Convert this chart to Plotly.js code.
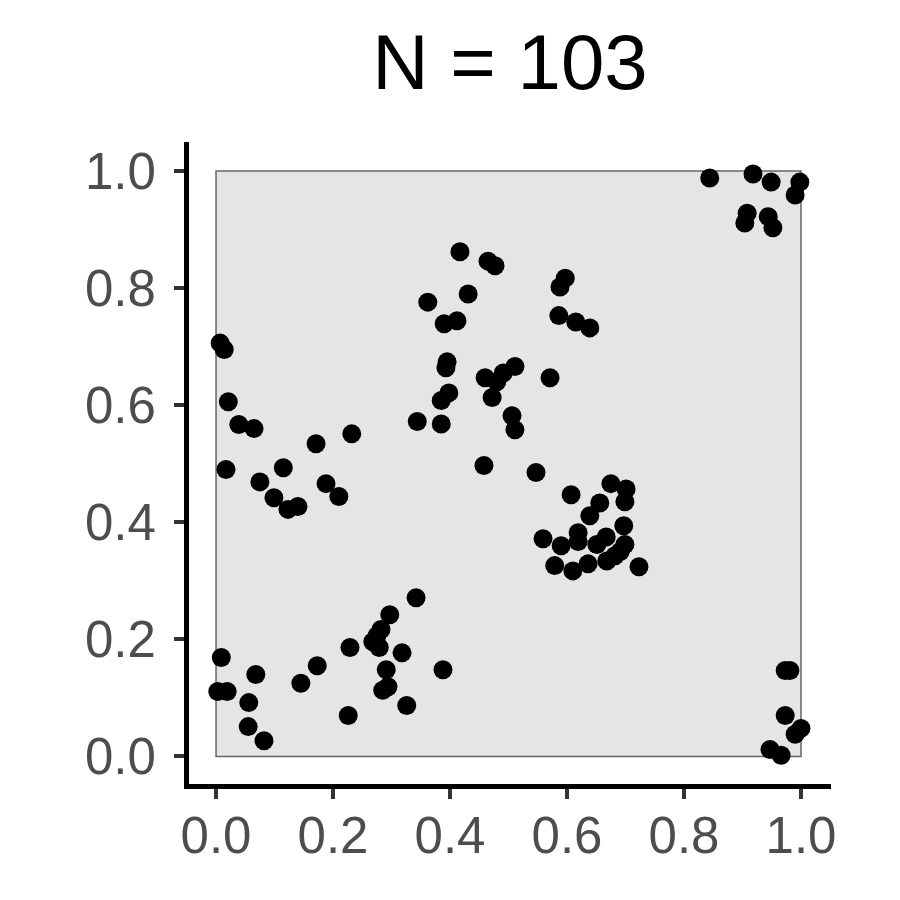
<!DOCTYPE html>
<html>
<head>
<meta charset="utf-8">
<script src="https://cdn.plot.ly/plotly-3.0.1.min.js"></script>
<style>html,body{margin:0;padding:0;background:#fff;}#chart{width:900px;height:900px;}</style>
</head>
<body>
<div id="chart"></div>
<script>
const titleText = "N = 103";
const xValues = [
  0.844, 0.918, 0.949, 0.998, 0.990, 0.908, 0.904, 0.944, 0.952,
  0.417, 0.465, 0.477, 0.362, 0.431, 0.390, 0.412, 0.395, 0.393, 0.398,
  0.385, 0.344, 0.385, 0.460, 0.491, 0.511, 0.472, 0.480, 0.506, 0.511,
  0.458, 0.547, 0.571, 0.597, 0.588, 0.586, 0.615, 0.639,
  0.607, 0.675, 0.701, 0.699, 0.656, 0.639, 0.697, 0.559, 0.590, 0.619,
  0.619, 0.667, 0.651, 0.699, 0.691, 0.579, 0.610, 0.636, 0.668, 0.723, 0.682,
  0.007, 0.014, 0.021, 0.039, 0.065, 0.171, 0.232, 0.017, 0.115, 0.075,
  0.099, 0.123, 0.140, 0.188, 0.210,
  0.342, 0.297, 0.282, 0.268, 0.279, 0.229, 0.318, 0.291, 0.388, 0.173,
  0.145, 0.294, 0.285, 0.326, 0.226, 0.275,
  0.009, 0.068, 0.003, 0.019, 0.056, 0.055, 0.082,
  0.973, 0.981, 0.973, 1.000, 0.990, 0.947, 0.966
];
const yValues = [
  0.988, 0.995, 0.981, 0.981, 0.959, 0.928, 0.911, 0.922, 0.903,
  0.862, 0.846, 0.838, 0.776, 0.790, 0.739, 0.744, 0.674, 0.664, 0.621,
  0.608, 0.572, 0.568, 0.647, 0.655, 0.666, 0.613, 0.640, 0.582, 0.558,
  0.497, 0.485, 0.647, 0.817, 0.802, 0.753, 0.742, 0.732,
  0.447, 0.466, 0.457, 0.435, 0.433, 0.411, 0.394, 0.372, 0.360, 0.382,
  0.367, 0.375, 0.362, 0.362, 0.350, 0.326, 0.317, 0.329, 0.334, 0.324, 0.343,
  0.706, 0.695, 0.606, 0.567, 0.560, 0.534, 0.551, 0.490, 0.493, 0.469,
  0.442, 0.422, 0.427, 0.466, 0.444,
  0.271, 0.242, 0.217, 0.196, 0.186, 0.186, 0.177, 0.148, 0.148, 0.155,
  0.125, 0.119, 0.113, 0.087, 0.070, 0.206,
  0.169, 0.140, 0.111, 0.111, 0.092, 0.051, 0.027,
  0.147, 0.147, 0.070, 0.048, 0.038, 0.012, 0.002
];
const tickValues = [0, 0.2, 0.4, 0.6, 0.8, 1.0];
const tickLabels = ["0.0", "0.2", "0.4", "0.6", "0.8", "1.0"];

const font = "Liberation Sans, Arial, Helvetica, sans-serif";

const axisCommon = {
  tickvals: tickValues,
  ticktext: tickLabels,
  ticks: "outside",
  ticklen: 10,
  tickwidth: 4,
  tickcolor: "#333333",
  showline: true,
  linecolor: "#000000",
  linewidth: 5,
  showgrid: false,
  zeroline: false,
  tickfont: {family: font, size: 51, color: "#4d4d4d"},
  fixedrange: true
};

const trace = {
  type: "scatter",
  mode: "markers",
  x: xValues,
  y: yValues,
  marker: {color: "#000000", size: 19, line: {width: 0}},
  hoverinfo: "skip"
};

const layout = {
  width: 900,
  height: 900,
  margin: {l: 189, r: 69, t: 142, b: 115.5},
  paper_bgcolor: "#ffffff",
  plot_bgcolor: "#ffffff",
  showlegend: false,
  title: {
    text: titleText,
    font: {family: font, size: 78, color: "#000000"},
    x: 0.5, xref: "paper", xanchor: "center",
    y: 0.931, yref: "container", yanchor: "middle"
  },
  xaxis: Object.assign({}, axisCommon, {range: [-0.0462, 1.0513], ticklabelstandoff: -7}),
  yaxis: Object.assign({}, axisCommon, {range: [-0.047, 1.0495], ticklabelstandoff: 8}),
  shapes: [{
    type: "rect", xref: "x", yref: "y",
    x0: 0, x1: 1, y0: 0, y1: 1,
    fillcolor: "#e5e5e5",
    line: {color: "#666666", width: 1.5},
    layer: "below"
  }]
};

Plotly.newPlot("chart", [trace], layout, {displayModeBar: false, staticPlot: true});
</script>
</body>
</html>
